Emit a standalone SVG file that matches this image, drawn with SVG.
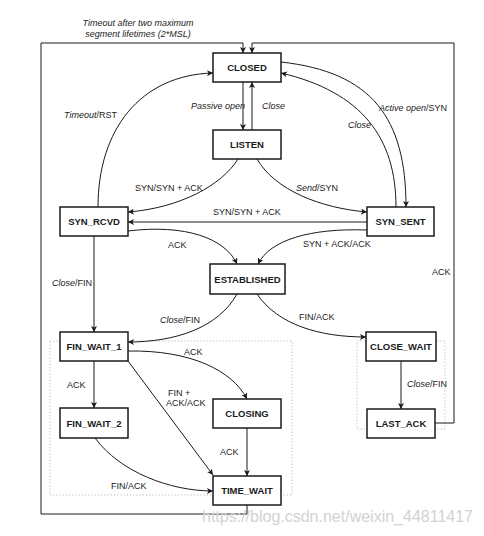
<svg xmlns="http://www.w3.org/2000/svg" width="484" height="536" viewBox="0 0 484 536">
<defs>
<marker id="ah" markerUnits="userSpaceOnUse" markerWidth="8" markerHeight="6" refX="6" refY="3" orient="auto">
<path d="M0,0 L6,3 L0,6 L1.5,3 z" fill="#1a1a1a"/>
</marker>
<style>
.n rect{fill:#fff;stroke:#1a1a1a;stroke-width:1.5}
.n text{font-family:"Liberation Sans",Arial,sans-serif;font-weight:bold;font-size:9.5px;fill:#1a1a1a;text-anchor:middle}
.c path{fill:none;stroke:#1a1a1a;stroke-width:1}
.c path.a{marker-end:url(#ah)}
.l{font-family:"Liberation Sans",Arial,sans-serif;font-size:9px;fill:#222}
.i{font-style:italic}
.dot{fill:none;stroke:#bdbdbd;stroke-width:1;stroke-dasharray:1.2 2}
</style>
</defs>
<rect width="484" height="536" fill="#fff"/>

<g id="groups">
<rect class="dot" x="50" y="341" width="242" height="154"/>
<rect class="dot" x="357" y="341" width="88" height="88"/>
</g>

<g class="c" id="connectors">
<!-- TIME_WAIT -> CLOSED -->
<path class="a" d="M247,505 V514 H41 V43 H243 V53"/>
<!-- LAST_ACK -> CLOSED -->
<path class="a" d="M435,423 H454 V43 H252 V53"/>
<!-- SYN_RCVD -> CLOSED Timeout/RST -->
<path class="a" d="M98,207 C98,130 140,75 213,73"/>
<!-- CLOSED -> LISTEN -->
<path class="a" d="M243,82 V130"/>
<!-- LISTEN -> CLOSED -->
<path class="a" d="M252,130 V82"/>
<!-- Active open -->
<path class="a" d="M281,62 C372,72 406,118 406,207"/>
<!-- Close SYN_SENT -> CLOSED -->
<path class="a" d="M396,207 C396,138 362,92 281,73"/>
<!-- LISTEN -> SYN_RCVD -->
<path class="a" d="M238,159 C222,185 180,208 128,212"/>
<!-- LISTEN -> SYN_SENT -->
<path class="a" d="M257,159 C275,190 320,208 367,212"/>
<!-- SYN_SENT -> SYN_RCVD -->
<path class="a" d="M367,222 H128"/>
<!-- SYN_RCVD -> ESTABLISHED -->
<path class="a" d="M128,231 C185,224 225,238 237,264"/>
<!-- SYN_SENT -> ESTABLISHED -->
<path class="a" d="M367,230 C310,228 270,240 258,264"/>
<!-- SYN_RCVD -> FIN_WAIT_1 -->
<path class="a" d="M94,236 V332"/>
<!-- ESTABLISHED -> FIN_WAIT_1 -->
<path class="a" d="M237,294 C218,328 175,342 128,342"/>
<!-- ESTABLISHED -> CLOSE_WAIT -->
<path class="a" d="M257,294 C278,325 320,337 366,337"/>
<!-- FIN_WAIT_1 -> CLOSING -->
<path class="a" d="M128,351 C190,350 232,370 247,399"/>
<!-- FIN_WAIT_1 -> FIN_WAIT_2 -->
<path class="a" d="M94,361 V408"/>
<!-- FIN_WAIT_1 -> TIME_WAIT -->
<path class="a" d="M128,361 L213,475"/>
<!-- FIN_WAIT_2 -> TIME_WAIT -->
<path class="a" d="M95,438 C120,472 170,491 213,491"/>
<!-- CLOSING -> TIME_WAIT -->
<path class="a" d="M247,428 V476"/>
<!-- CLOSE_WAIT -> LAST_ACK -->
<path class="a" d="M401,361 V409"/>
</g>

<g id="labels">
<text class="l i" x="138" y="26" text-anchor="middle" font-size="8.6">Timeout after two maximum</text>
<text class="l i" x="138" y="37" text-anchor="middle" font-size="8.6">segment lifetimes (2*MSL)</text>
<text class="l" x="64" y="118"><tspan class="i">Timeout</tspan>/RST</text>
<text class="l i" x="191" y="109">Passive open</text>
<text class="l i" x="262" y="109">Close</text>
<text class="l" x="379" y="111"><tspan class="i">Active open</tspan>/SYN</text>
<text class="l i" x="348" y="128">Close</text>
<text class="l" x="135" y="191">SYN/SYN + ACK</text>
<text class="l" x="296" y="191"><tspan class="i">Send</tspan>/SYN</text>
<text class="l" x="213" y="215">SYN/SYN + ACK</text>
<text class="l" x="168" y="248">ACK</text>
<text class="l" x="303" y="247">SYN + ACK/ACK</text>
<text class="l" x="432" y="275">ACK</text>
<text class="l" x="52" y="286"><tspan class="i">Close</tspan>/FIN</text>
<text class="l" x="160" y="323"><tspan class="i">Close</tspan>/FIN</text>
<text class="l" x="299" y="320">FIN/ACK</text>
<text class="l" x="184" y="355">ACK</text>
<text class="l" x="67" y="388">ACK</text>
<text class="l" x="168" y="396">FIN +</text>
<text class="l" x="166" y="406">ACK/ACK</text>
<text class="l" x="220" y="455">ACK</text>
<text class="l" x="111" y="489">FIN/ACK</text>
<text class="l" x="407" y="387"><tspan class="i">Close</tspan>/FIN</text>
</g>

<g id="CLOSED" class="n"><rect x="213" y="53" width="68" height="29"/><text x="247" y="71">CLOSED</text></g>
<g id="LISTEN" class="n"><rect x="213" y="130" width="68" height="29"/><text x="247" y="148">LISTEN</text></g>
<g id="SYN_RCVD" class="n"><rect x="60" y="207" width="68" height="29"/><text x="94" y="225">SYN_RCVD</text></g>
<g id="SYN_SENT" class="n"><rect x="367" y="207" width="67" height="29"/><text x="400.5" y="225">SYN_SENT</text></g>
<g id="ESTABLISHED" class="n"><rect x="210" y="264" width="75" height="30"/><text x="247.5" y="282.5">ESTABLISHED</text></g>
<g id="FIN_WAIT_1" class="n"><rect x="60" y="332" width="68" height="29"/><text x="94" y="350">FIN_WAIT_1</text></g>
<g id="FIN_WAIT_2" class="n"><rect x="60" y="408" width="68" height="30"/><text x="94" y="426.5">FIN_WAIT_2</text></g>
<g id="CLOSING" class="n"><rect x="213" y="399" width="68" height="29"/><text x="247" y="417">CLOSING</text></g>
<g id="TIME_WAIT" class="n"><rect x="213" y="476" width="68" height="29"/><text x="247" y="494">TIME_WAIT</text></g>
<g id="CLOSE_WAIT" class="n"><rect x="366" y="332" width="70" height="29"/><text x="401" y="350">CLOSE_WAIT</text></g>
<g id="LAST_ACK" class="n"><rect x="367" y="409" width="68" height="29"/><text x="401" y="427">LAST_ACK</text></g>

<text x="202" y="522" font-family="Liberation Sans,Arial,sans-serif" font-size="16" fill="#d2d2d2">https://blog.csdn.net/weixin_44811417</text>
</svg>
